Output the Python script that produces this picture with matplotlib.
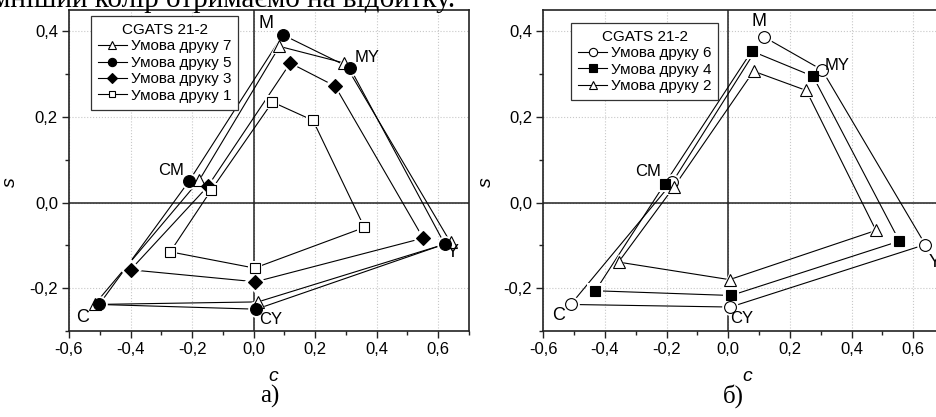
import matplotlib
matplotlib.use("Agg")
import matplotlib.pyplot as plt
from matplotlib.ticker import MultipleLocator, FuncFormatter
from matplotlib.lines import Line2D

plt.rcParams['font.family'] = ['Liberation Sans', 'DejaVu Sans']

# Vertex order: C, CM, M, MY, Y, CY
vertices = ["C", "CM", "M", "MY", "Y", "CY"]

# Panel a)
c7 = [-0.517, -0.177, 0.084, 0.295, 0.640, 0.014]
s7 = [-0.238, 0.052, 0.365, 0.326, -0.093, -0.232]
c5 = [-0.502, -0.210, 0.095, 0.313, 0.621, 0.009]
s5 = [-0.238, 0.050, 0.392, 0.315, -0.097, -0.249]
c3 = [-0.400, -0.149, 0.119, 0.265, 0.551, 0.006]
s3 = [-0.157, 0.038, 0.326, 0.272, -0.083, -0.185]
c1 = [-0.271, -0.137, 0.061, 0.193, 0.360, 0.003]
s1 = [-0.115, 0.030, 0.235, 0.192, -0.058, -0.153]

# Panel б)
c6 = [-0.511, -0.181, 0.116, 0.304, 0.639, 0.007]
s6 = [-0.238, 0.048, 0.387, 0.310, -0.098, -0.244]
c4 = [-0.431, -0.206, 0.076, 0.275, 0.555, 0.009]
s4 = [-0.206, 0.044, 0.354, 0.295, -0.090, -0.217]
c2 = [-0.356, -0.177, 0.082, 0.253, 0.479, 0.004]
s2 = [-0.139, 0.036, 0.307, 0.262, -0.065, -0.180]

labels_a = ["Умова друку 7", "Умова друку 5", "Умова друку 3", "Умова друку 1"]
labels_b = ["Умова друку 6", "Умова друку 4", "Умова друку 2"]
legend_title = "CGATS 21-2"

# vertex label positions (c, s)
lab_pos_a = {"C": (-0.556, -0.269), "CM": (-0.267, 0.074), "M": (0.041, 0.418),
             "MY": (0.370, 0.340), "Y": (0.646, -0.117), "CY": (0.057, -0.273)}
lab_pos_b = {"C": (-0.552, -0.263), "CM": (-0.260, 0.072), "M": (0.100, 0.424),
             "MY": (0.354, 0.321), "Y": (0.668, -0.139), "CY": (0.043, -0.271)}

W, H = 936, 417
fig = plt.figure(figsize=(W / 100, H / 100), dpi=100)

ax1 = fig.add_axes([69 / W, (H - 331) / H, (469 - 69) / W, (331 - 10) / H])
ax2 = fig.add_axes([543.3 / W, (H - 331) / H, 400.8 / W, (331 - 10) / H])

fmt = FuncFormatter(lambda v, p: ("%.1f" % v).replace(".", ",").replace("-0,0", "0,0"))


def style_axes(ax, ylab_x):
    ax.set_xlim(-0.6, 0.7)
    ax.set_ylim(-0.3, 0.45)
    ax.xaxis.set_major_locator(MultipleLocator(0.2))
    ax.xaxis.set_minor_locator(MultipleLocator(0.1))
    ax.yaxis.set_major_locator(MultipleLocator(0.2))
    ax.yaxis.set_minor_locator(MultipleLocator(0.1))
    ax.xaxis.set_major_formatter(fmt)
    ax.yaxis.set_major_formatter(fmt)
    ax.tick_params(which='major', direction='out', length=5, width=1, labelsize=12,
                   top=False, right=False, colors='#222222', labelcolor='black', pad=3)
    ax.tick_params(which='minor', direction='out', length=3, width=1,
                   top=False, right=False, colors='#222222')
    ax.grid(True, which='major', color='#c8c8c8', linestyle=':', linewidth=0.8)
    ax.set_axisbelow(True)
    for sp in ax.spines.values():
        sp.set_linewidth(1.2)
        sp.set_color('#222222')
    ax.axhline(0, color='#222222', lw=1.1, zorder=1)
    ax.axvline(0, color='#222222', lw=1.1, zorder=1)
    ax.set_xlabel("c", fontsize=14, style='italic')
    ax.set_ylabel("s", fontsize=14, style='italic')
    ax.xaxis.set_label_coords(0.51, -0.115)
    ax.yaxis.set_label_coords(ylab_x, 0.464)


def draw_series(ax, cs, ss, marker, ms, fc):
    xc = list(cs) + [cs[0]]
    yc = list(ss) + [ss[0]]
    ax.plot(xc, yc, color='black', lw=0.8, zorder=2, solid_joinstyle='miter')
    ax.plot(cs, ss, ls='none', marker=marker, ms=ms + 3.5, mfc='white', mec='white',
            mew=0, zorder=3)
    ax.plot(cs, ss, ls='none', marker=marker, ms=ms, mfc=fc, mec='black', mew=0.8,
            zorder=4)


style_axes(ax1, -0.125)
style_axes(ax2, -0.12)

series_a = [(c7, s7, '^', 8.5, 'white'), (c5, s5, 'o', 8.5, 'black'),
            (c3, s3, 'D', 7.5, 'black'), (c1, s1, 's', 7, 'white')]
series_b = [(c6, s6, 'o', 8.5, 'white'), (c4, s4, 's', 7.5, 'black'),
            (c2, s2, '^', 8.5, 'white')]

handles_a = []
for (cs, ss, m, ms, fc), lab in zip(series_a, labels_a):
    draw_series(ax1, cs, ss, m, ms, fc)
    handles_a.append(Line2D([], [], color='black', lw=0.8, marker=m, ms=ms * 0.7,
                            mfc=fc, mec='black', mew=0.8, label=lab))
handles_b = []
for (cs, ss, m, ms, fc), lab in zip(series_b, labels_b):
    draw_series(ax2, cs, ss, m, ms, fc)
    handles_b.append(Line2D([], [], color='black', lw=0.8, marker=m, ms=ms * 0.7,
                            mfc=fc, mec='black', mew=0.8, label=lab))

for ax, pos in ((ax1, lab_pos_a), (ax2, lab_pos_b)):
    for v in vertices:
        x, y = pos[v]
        ax.text(x, y, v, fontsize=13 if v in ("C", "M", "Y") else 12,
                ha='center', va='center', zorder=6)

for ax, hs, loc in ((ax1, handles_a, (0.055, 0.981)), (ax2, handles_b, (0.07, 0.96))):
    leg = ax.legend(handles=hs, title=legend_title, loc='upper left', bbox_to_anchor=loc,
                    fontsize=11, title_fontsize=11, frameon=True, fancybox=False,
                    edgecolor='#333333', framealpha=1, handlelength=1.9,
                    handletextpad=0.25, borderpad=0.45, labelspacing=0.16,
                    borderaxespad=0)
    leg.get_frame().set_linewidth(0.9)
    leg.set_zorder(10)

serif = ['Liberation Serif', 'DejaVu Serif']
fig.text(455 / W, 1 - 7 / H, "Найтемніший колір отримаємо на відбитку.", ha='right',
         va='baseline', fontsize=21, family=serif)
fig.text(270 / W, 1 - 403 / H, "а)", ha='center', va='baseline', fontsize=18, family=serif)
fig.text(733 / W, 1 - 403 / H, "б)", ha='center', va='baseline', fontsize=18, family=serif)

fig.savefig("out.png", dpi=100)
